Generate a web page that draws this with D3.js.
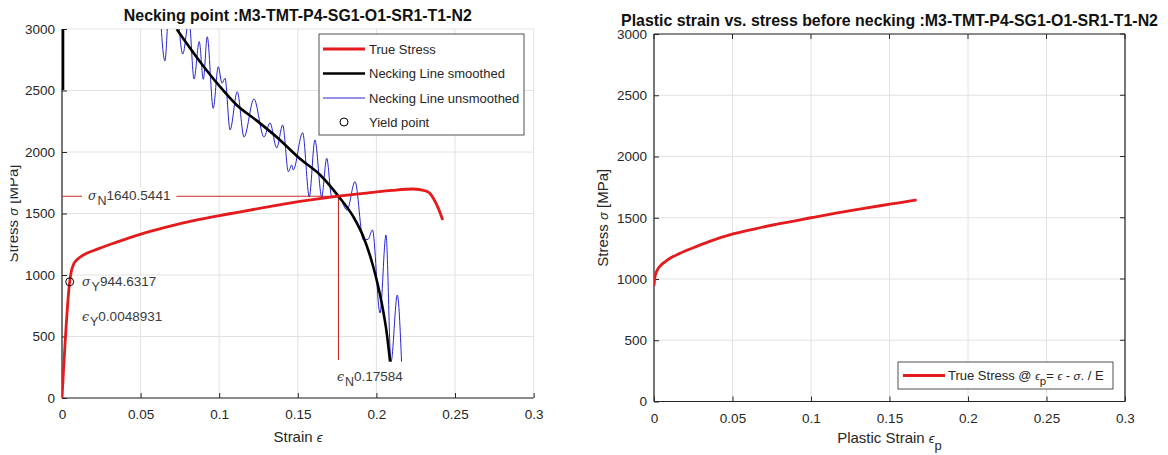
<!DOCTYPE html>
<html>
<head>
<meta charset="utf-8">
<script src="https://cdn.jsdelivr.net/npm/d3@7"></script>
<style>
  html, body { margin: 0; padding: 0; background: #fff; }
  svg { display: block; font-family: "Liberation Sans", Arial, Helvetica, sans-serif; }
</style>
</head>
<body>
<svg id="chart" width="1168" height="455"></svg>
<script>
// ---------------- data ----------------
const xTicks = [0, 0.05, 0.1, 0.15, 0.2, 0.25, 0.3];
const xTickLabels = ["0", "0.05", "0.1", "0.15", "0.2", "0.25", "0.3"];
const yTicks = [0, 500, 1000, 1500, 2000, 2500, 3000];
const yTickLabels = ["0", "500", "1000", "1500", "2000", "2500", "3000"];

// True stress-strain curve (left panel)
const trueStrain = [0, 0.0049, 0.0060, 0.0075, 0.0093, 0.0120, 0.0157, 0.0220, 0.0305, 0.0400, 0.0507, 0.0650, 0.0866, 0.1077, 0.1300, 0.1514, 0.1650, 0.1758, 0.1959, 0.2100, 0.2235, 0.2309, 0.2340, 0.2362, 0.2394, 0.2422];
const trueStress = [0, 945, 1035, 1090, 1122, 1150, 1176, 1208, 1248, 1290, 1334, 1385, 1450, 1500, 1552, 1598, 1623, 1641, 1669, 1688, 1699, 1685, 1665, 1624, 1542, 1447];

// Necking line, smoothed (black)
const neckSmoothStrain = [0.0730, 0.0878, 0.1005, 0.1111, 0.1239, 0.1376, 0.1514, 0.1641, 0.1758, 0.1853, 0.1917, 0.1980, 0.2034, 0.2066, 0.2087];
const neckSmoothStress = [2998, 2734, 2531, 2382, 2255, 2110, 1945, 1815, 1641, 1474, 1311, 1067, 770, 526, 295];
// short piece of the smoothed line lying on the strain = 0 axis
const neckSmoothEdgeStrain = [0, 0];
const neckSmoothEdgeStress = [3000, 2505];

// Necking line, unsmoothed (blue)
const neckRawStrain = [0.0620, 0.0655, 0.0677, 0.0712, 0.0768, 0.0808, 0.0840, 0.0873, 0.0899, 0.0924, 0.0962, 0.0994, 0.1018, 0.1037, 0.1069, 0.1115, 0.1158, 0.1221, 0.1285, 0.1323, 0.1366, 0.1404, 0.1440, 0.1461, 0.1471, 0.1531, 0.1573, 0.1609, 0.1652, 0.1684, 0.1716, 0.1756, 0.1813, 0.1864, 0.1917, 0.1947, 0.1975, 0.2023, 0.2061, 0.2093, 0.2133, 0.2160];
const neckRawStress = [3236, 2740, 3154, 3398, 2797, 3073, 2593, 2897, 2591, 2937, 2355, 2693, 2559, 2599, 2179, 2490, 2122, 2431, 2122, 2236, 2033, 2220, 1840, 1894, 1854, 2157, 1637, 2098, 1637, 1949, 1634, 1650, 1528, 1759, 1285, 1290, 1366, 691, 1325, 295, 837, 295];

// Yield and necking points
const yieldStrain = 0.0048931, yieldStress = 944.6317;
const neckStrain = 0.17584, neckStress = 1640.5441;
const neckMarkerBottom = 309;

// Plastic strain vs stress (right panel)
const plasticStrain = [0, 0.0005, 0.0012, 0.0021, 0.0040, 0.0070, 0.0110, 0.0166, 0.0250, 0.0350, 0.0503, 0.0650, 0.0800, 0.1000, 0.1150, 0.1310, 0.1440, 0.1560, 0.1673];
const plasticStress = [945, 1010, 1045, 1073, 1108, 1140, 1175, 1210, 1255, 1305, 1368, 1412, 1452, 1500, 1535, 1570, 1598, 1622, 1645];

// ---------------- drawing ----------------
const svg = d3.select("#chart");
const TXT = "#262626", GRID = "#e2e2e2";
const RED = "#e41a1c", MARK = "#c92a2a", BLUE = "#2525d2";

function zip(a, b) { return a.map((v, i) => [v, b[i]]); }

function panel(opts) {
  const { x0, x1, yTop, yBot, box, id } = opts;
  const x = d3.scaleLinear().domain([0, 0.3]).range([x0, x1]);
  const y = d3.scaleLinear().domain([0, 3000]).range([yBot, yTop]);
  const g = svg.append("g");
  // grid
  g.append("g").selectAll("line").data(xTicks).join("line")
    .attr("x1", d => x(d)).attr("x2", d => x(d)).attr("y1", yTop).attr("y2", yBot)
    .attr("stroke", GRID).attr("stroke-width", 1);
  g.append("g").selectAll("line").data(yTicks).join("line")
    .attr("x1", x0).attr("x2", x1).attr("y1", d => y(d)).attr("y2", d => y(d))
    .attr("stroke", GRID).attr("stroke-width", 1);
  // axes
  const xa = d3.axisBottom(x).tickValues(xTicks).tickFormat((d, i) => xTickLabels[i]).tickSize(-5).tickPadding(11.5);
  const ya = d3.axisLeft(y).tickValues(yTicks).tickFormat((d, i) => yTickLabels[i]).tickSize(-5).tickPadding(7);
  const gx = g.append("g").attr("transform", `translate(0,${yBot})`).call(xa);
  const gy = g.append("g").attr("transform", `translate(${x0},0)`).call(ya);
  [gx, gy].forEach(a => {
    a.select(".domain").remove();
    a.selectAll(".tick line").attr("stroke", TXT).attr("stroke-width", 1);
    a.selectAll(".tick text").attr("fill", TXT).style("font-size", "13.5px")
      .style("font-family", "'Liberation Sans', Arial, sans-serif");
  });
  g.append("line").attr("x1", x0).attr("x2", x1).attr("y1", yBot).attr("y2", yBot).attr("stroke", TXT).attr("stroke-width", 1.2);
  g.append("line").attr("x1", x0).attr("x2", x0).attr("y1", yTop).attr("y2", yBot).attr("stroke", TXT).attr("stroke-width", 1.2);
  if (box) {
    g.append("line").attr("x1", x0).attr("x2", x1).attr("y1", yTop).attr("y2", yTop).attr("stroke", TXT).attr("stroke-width", 1.2);
    g.append("line").attr("x1", x1).attr("x2", x1).attr("y1", yTop).attr("y2", yBot).attr("stroke", TXT).attr("stroke-width", 1.2);
    g.append("g").selectAll("line").data(xTicks).join("line")
      .attr("x1", d => x(d)).attr("x2", d => x(d)).attr("y1", yTop).attr("y2", yTop + 5).attr("stroke", TXT);
    g.append("g").selectAll("line").data(yTicks).join("line")
      .attr("x1", x1 - 5).attr("x2", x1).attr("y1", d => y(d)).attr("y2", d => y(d)).attr("stroke", TXT);
  }
  // clip
  svg.append("clipPath").attr("id", id).append("rect")
    .attr("x", x0).attr("y", yTop).attr("width", x1 - x0).attr("height", yBot - yTop);
  const plot = svg.append("g").attr("clip-path", `url(#${id})`);
  return { x, y, g, plot };
}

// ---------- Left panel ----------
const L = panel({ x0: 62, x1: 533.6, yTop: 29, yBot: 398, box: false, id: "clipL" });
const lineL = d3.line().x(d => L.x(d[0])).y(d => L.y(d[1])).curve(d3.curveMonotoneX);

// necking marker lines
L.plot.append("line").attr("x1", L.x(0)).attr("x2", L.x(neckStrain))
  .attr("y1", L.y(neckStress)).attr("y2", L.y(neckStress)).attr("stroke", MARK).attr("stroke-width", 1.1);
L.plot.append("line").attr("x1", L.x(neckStrain)).attr("x2", L.x(neckStrain))
  .attr("y1", L.y(neckStress)).attr("y2", L.y(neckMarkerBottom)).attr("stroke", MARK).attr("stroke-width", 1.1);

L.plot.append("path").datum(zip(neckRawStrain, neckRawStress)).attr("d", lineL)
  .attr("fill", "none").attr("stroke", BLUE).attr("stroke-width", 1);
L.plot.append("path").datum(zip(neckSmoothStrain, neckSmoothStress)).attr("d", lineL)
  .attr("fill", "none").attr("stroke", "#000").attr("stroke-width", 2.6);
L.plot.append("path").datum(zip(neckSmoothEdgeStrain, neckSmoothEdgeStress)).attr("d", d3.line().x(d => L.x(d[0]) + 1).y(d => L.y(d[1])))
  .attr("fill", "none").attr("stroke", "#000").attr("stroke-width", 2.6);
L.plot.append("path").datum(zip(trueStrain, trueStress)).attr("d", lineL)
  .attr("fill", "none").attr("stroke", RED).attr("stroke-width", 2.8).attr("stroke-linejoin", "round");
L.plot.append("circle").attr("cx", L.x(yieldStrain)).attr("cy", L.y(yieldStress)).attr("r", 4)
  .attr("fill", "none").attr("stroke", "#000").attr("stroke-width", 1);

// annotation texts
function subText(parent, xx, yy, sym, sub, val) {
  const t = parent.append("text").attr("x", xx).attr("y", yy).attr("fill", "#3a3a3a").style("font-size", "13.5px");
  t.append("tspan").text(sym).style("font-style", "italic").style("font-family", "'DejaVu Serif', serif").style("font-size", "12.5px");
  t.append("tspan").attr("dx", 1).attr("dy", 5).style("font-size", "12.5px").text(sub);
  t.append("tspan").attr("dy", -5).text(val);
  return t;
}
const ann = svg.append("g");
const tN = subText(ann, 88, 200, "σ", "N", neckStress.toFixed(4));
const bb = tN.node().getBBox();
ann.insert("rect", "text").attr("x", bb.x - 6).attr("y", bb.y).attr("width", bb.width + 12).attr("height", bb.height).attr("fill", "#fff");
subText(ann, 82, 286, "σ", "Y", yieldStress.toFixed(4));
subText(ann, 82, 321, "ϵ", "Y", "0.0048931");
subText(ann, 337, 381, "ϵ", "N", neckStrain.toFixed(5));

// titles and labels
svg.append("text").attr("x", 297.8).attr("y", 20.5).attr("text-anchor", "middle")
  .style("font-size", "15.9px").style("font-weight", "bold").attr("fill", "#111")
  .text("Necking point :M3-TMT-P4-SG1-O1-SR1-T1-N2");
svg.append("clipPath").attr("id", "clipYL").append("rect").attr("x", 10.5).attr("y", 0).attr("width", 60).attr("height", 455);
svg.append("g").attr("clip-path", "url(#clipYL)").append("text")
  .attr("transform", "translate(18,213.5) rotate(-90)").attr("text-anchor", "middle")
  .style("font-size", "15px").attr("fill", TXT)
  .call(t => { t.append("tspan").text("Stress "); t.append("tspan").style("font-style", "italic").style("font-size", "13px").text("σ"); t.append("tspan").text(" [MPa]"); });
svg.append("text").attr("x", 298).attr("y", 442).attr("text-anchor", "middle")
  .style("font-size", "15px").attr("fill", TXT)
  .call(t => { t.append("tspan").text("Strain "); t.append("tspan").style("font-style", "italic").style("font-size", "13px").text("ϵ"); });

// left legend
const lg = svg.append("g");
lg.append("rect").attr("x", 319).attr("y", 34).attr("width", 205).attr("height", 101)
  .attr("fill", "#fff").attr("stroke", "#262626").attr("stroke-width", 0.8);
const legItems = [
  { label: "True Stress", color: RED, w: 2.8, y: 49 },
  { label: "Necking Line smoothed", color: "#000", w: 2.6, y: 73.5 },
  { label: "Necking Line unsmoothed", color: BLUE, w: 1, y: 98 },
  { label: "Yield point", color: null, y: 122 }
];
legItems.forEach(it => {
  if (it.color) lg.append("line").attr("x1", 323).attr("x2", 365).attr("y1", it.y).attr("y2", it.y).attr("stroke", it.color).attr("stroke-width", it.w);
  else lg.append("circle").attr("cx", 344).attr("cy", it.y).attr("r", 4).attr("fill", "none").attr("stroke", "#000");
  lg.append("text").attr("x", 369).attr("y", it.y + 4.5).style("font-size", "13px").attr("fill", TXT).text(it.label);
});

// ---------- Right panel ----------
const R = panel({ x0: 654, x1: 1125, yTop: 34, yBot: 401.5, box: true, id: "clipR" });
const lineR = d3.line().x(d => R.x(d[0])).y(d => R.y(d[1])).curve(d3.curveMonotoneX);
R.plot.append("path").datum(zip(plasticStrain, plasticStress)).attr("d", lineR)
  .attr("fill", "none").attr("stroke", RED).attr("stroke-width", 2.8);

svg.append("text").attr("x", 889.5).attr("y", 26).attr("text-anchor", "middle")
  .style("font-size", "15.9px").style("font-weight", "bold").attr("fill", "#111")
  .text("Plastic strain vs. stress before necking :M3-TMT-P4-SG1-O1-SR1-T1-N2");
svg.append("text").attr("transform", "translate(608,217.7) rotate(-90)").attr("text-anchor", "middle")
  .style("font-size", "15px").attr("fill", TXT)
  .call(t => { t.append("tspan").text("Stress "); t.append("tspan").style("font-style", "italic").style("font-size", "13px").text("σ"); t.append("tspan").text(" [MPa]"); });
svg.append("text").attr("x", 889.5).attr("y", 443).attr("text-anchor", "middle")
  .style("font-size", "15px").attr("fill", TXT)
  .call(t => {
    t.append("tspan").text("Plastic Strain  ");
    t.append("tspan").style("font-style", "italic").style("font-size", "13px").text("ϵ");
    t.append("tspan").attr("dy", 7).style("font-size", "13px").text("p");
  });

// right legend
const rg = svg.append("g");
rg.append("rect").attr("x", 898).attr("y", 362).attr("width", 215).attr("height", 27)
  .attr("fill", "#fff").attr("stroke", "#262626").attr("stroke-width", 0.8);
rg.append("line").attr("x1", 903).attr("x2", 945).attr("y1", 375.5).attr("y2", 375.5).attr("stroke", RED).attr("stroke-width", 2.8);
rg.append("text").attr("x", 948).attr("y", 379.5).style("font-size", "13px").attr("fill", TXT)
  .call(t => {
    t.append("tspan").text("True Stress @ ");
    t.append("tspan").style("font-style", "italic").style("font-size", "10.5px").text("ϵ");
    t.append("tspan").attr("dy", 5).style("font-size", "11.5px").text("p");
    t.append("tspan").attr("dy", -5).text("= ");
    t.append("tspan").style("font-style", "italic").style("font-size", "10.5px").text("ϵ");
    t.append("tspan").text(" - ");
    t.append("tspan").style("font-style", "italic").style("font-size", "11.5px").text("σ");
    t.append("tspan").text(". / E");
  });
</script>
</body>
</html>
